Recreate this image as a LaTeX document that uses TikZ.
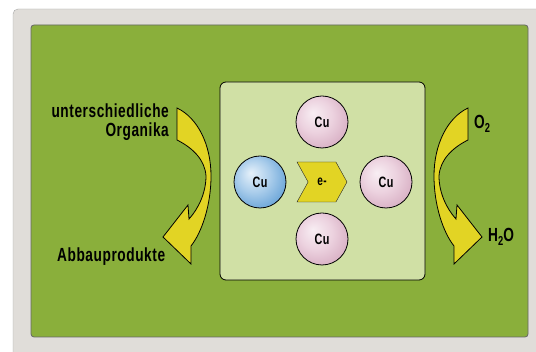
\documentclass[tikz,border=0pt]{standalone}
\usepackage{fontspec}
\setsansfont{Liberation Sans}[FakeStretch=0.72,LetterSpace=3]
\usetikzlibrary{ % tikz packages
    positioning,shapes.symbols
}
\definecolor{panelgray}{RGB}{224,221,217}
\definecolor{leafgreen}{RGB}{138,175,59}
\definecolor{palegreen}{RGB}{208,224,165}
\definecolor{swooshyellow}{RGB}{226,212,36}
\definecolor{pinklight}{RGB}{248,238,243}
\definecolor{pinkmid}{RGB}{236,210,223}
\definecolor{pinkdark}{RGB}{212,168,190}
\definecolor{bluelight}{RGB}{230,241,250}
\definecolor{bluemid}{RGB}{170,205,235}
\definecolor{bluedark}{RGB}{92,156,212}
\pgfdeclareradialshading{pinkball}{\pgfpoint{-9bp}{9bp}}{%
    color(0bp)=(pinklight); color(16bp)=(pinkmid); color(34bp)=(pinkdark); color(50bp)=(pinkdark)}
\pgfdeclareradialshading{blueball}{\pgfpoint{-9bp}{9bp}}{%
    color(0bp)=(bluelight); color(16bp)=(bluemid); color(34bp)=(bluedark); color(50bp)=(bluedark)}
\newcommand{\lowtwo}{\raisebox{-4.5pt}{\fontsize{13}{13}\selectfont 2}}
\tikzset{
    atom/.style={circle,draw=black,thick,minimum size=52pt,inner sep=0pt,
        font=\sffamily\bfseries\fontsize{15}{15}\selectfont},
    cupink/.style={atom,shading=pinkball},
    cublue/.style={atom,shading=blueball},
    electron/.style={signal,signal to=east,signal from=west,signal pointer angle=122,
        draw=black!85,fill=swooshyellow,minimum width=50pt,minimum height=40pt,
        inner sep=0pt,font=\sffamily\bfseries\fontsize{14}{14}\selectfont},
    chem/.style={font=\sffamily\bfseries\fontsize{19}{19}\selectfont,inner sep=0pt},
    pics/swoosh/.style={code={
        \filldraw[fill=swooshyellow,draw=black,line width=0.8pt,line join=miter]
            (177,108) .. controls (198,118) and (211,145) .. (211,176)
            .. controls (211,205) and (202,232) .. (191,246)
            -- (191,264) -- (163,237) -- (188,205) -- (189,219)
            .. controls (199,208) and (206,192) .. (206,176)
            .. controls (205,160) and (193,148) .. (177,140) -- cycle;
    }}
}

\begin{document}
\begin{tikzpicture}[x=1pt,y=-1pt,on grid]
        \useasboundingbox (0,0) rectangle (536,352);
        % panels
        \filldraw[fill=panelgray,draw=black!35,rounded corners=5pt] (13,9) rectangle (560,370);
        \filldraw[fill=leafgreen,draw=black!60,line width=0.8pt,rounded corners=3pt] (31,25) rectangle (528,337);
        \filldraw[fill=palegreen,draw=black,line width=0.8pt,rounded corners=6pt] (220,82) rectangle (425,280);

        % copper atoms round the electron
        \node[electron] (elec) at (322,182) {e-};
        \node[cupink] (cuT) [above=60pt of elec] {Cu};
        \node[cupink] (cuB) [below=57pt of elec] {Cu};
        \node[cublue] (cuL) [left=62pt of elec] {Cu};
        \node[cupink] (cuR) [right=64pt of elec] {Cu};

        % swooshes
        \pic at (0,0) {swoosh};
        \pic[xscale=-1] at (645,0) {swoosh};

        % labels
        \node[chem,anchor=east,align=right] (org) at (169,122) {unterschiedliche\\Organika};
        \node[chem,anchor=west] (abbau) at (57,257) {Abbauprodukte};
        \node[chem,anchor=west] (otwo) at (474,124) {O\lowtwo};
        \node[chem,anchor=west] (water) at (488,237) {H\lowtwo O};
    \end{tikzpicture}
\end{document}
